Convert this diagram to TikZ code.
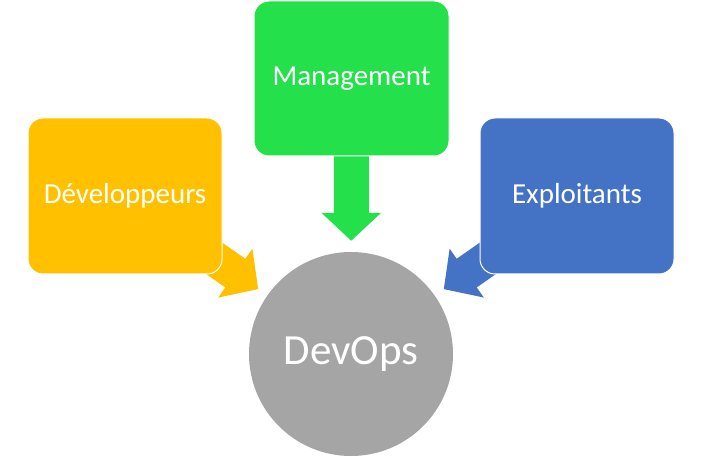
\documentclass[tikz,border=0pt]{standalone}
\usepackage{fontspec}
\setmainfont{Carlito}
\usepackage{tikz}
\usetikzlibrary{arrows.meta,positioning}
\usepackage{xcolor}
\definecolor{devyellow}{RGB}{255,192,0}
\definecolor{mgmtgreen}{RGB}{35,224,75}
\definecolor{opsblue}  {RGB}{68,114,196}
\definecolor{hubgray}  {RGB}{165,165,165}

\begin{document}
\begin{tikzpicture}[
  x=1pt, y=-1pt,
  every node/.style={font=\fontsize{29}{31}\selectfont, text=white, align=center},
  box/.style={draw=white, line width=1pt, rounded corners=15pt, minimum width=194pt, minimum height=156pt},
  hub/.style={circle, fill=hubgray, minimum size=204pt, font=\fontsize{43}{46}\selectfont},
  fat/.style={line width=35pt, -{Triangle[length=28pt, width=58pt]}, shorten >=11pt}
]
  \useasboundingbox (0,0) rectangle (702,457);

  % Nodes
  \node (devops) [hub] at (351,354) {DevOps};
  \coordinate (devc) at (125,196);
  \coordinate (mgmtc) at (351.5,78.5);
  \coordinate (opsc) at (577,196);

  % Paths
  \draw [fat, devyellow] (devc) -- (devops);
  \draw [fat, mgmtgreen] (mgmtc) -- (devops);
  \draw [fat, opsblue] (opsc) -- (devops);

  % Boxes on top
  \node (dev) [box, fill=devyellow] at (devc) {Développeurs};
  \node (mgmt) [box, fill=mgmtgreen, minimum width=195pt, minimum height=155pt] at (mgmtc) {Management};
  \node (ops) [box, fill=opsblue] at (opsc) {Exploitants};
\end{tikzpicture}
\end{document}
